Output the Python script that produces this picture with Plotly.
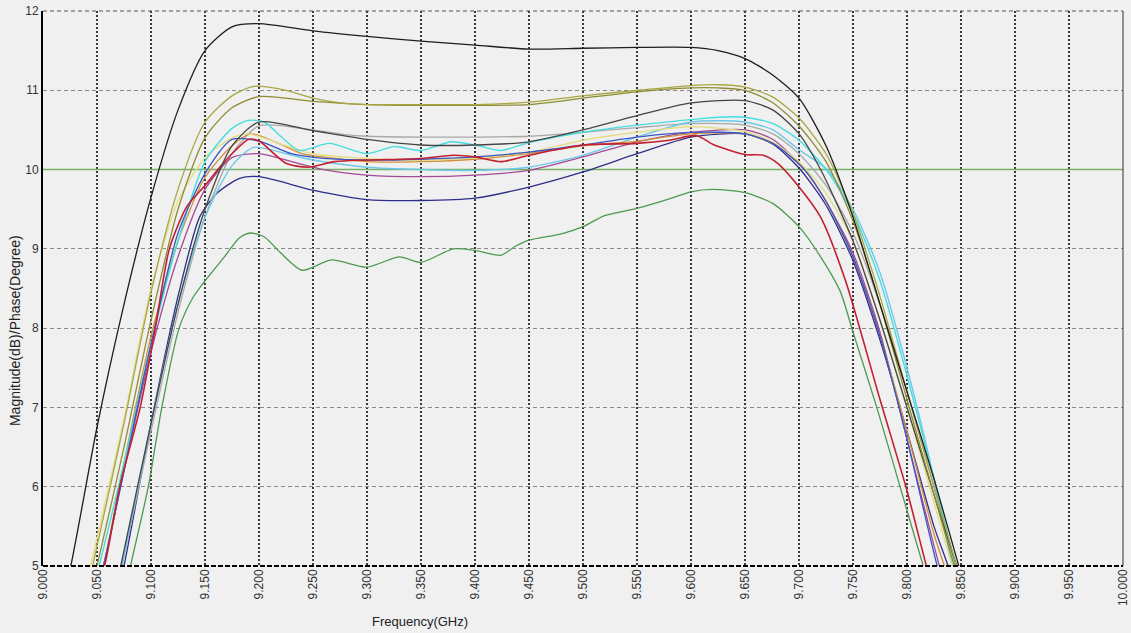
import plotly.graph_objects as go

# ---------------- data ----------------
x_tick_vals = [9.0 + 0.05 * i for i in range(21)]
x_tick_text = ["9.000", "9.050", "9.100", "9.150", "9.200", "9.250", "9.300", "9.350", "9.400",
               "9.450", "9.500", "9.550", "9.600", "9.650", "9.700", "9.750", "9.800", "9.850",
               "9.900", "9.950", "10.000"]
y_tick_vals = [5, 6, 7, 8, 9, 10, 11, 12]
limit_db = 10

black_f = [9.000, 9.025, 9.050, 9.075, 9.100, 9.125, 9.150, 9.175, 9.200, 9.250, 9.300, 9.350, 9.400,
           9.450, 9.500, 9.550, 9.600, 9.625, 9.650, 9.675, 9.700, 9.725, 9.750, 9.775, 9.800, 9.825,
           9.850, 9.875]
black_v = [3.5, 4.95, 6.75, 8.3, 9.65, 10.75, 11.5, 11.8, 11.84, 11.75, 11.68, 11.62, 11.57,
           11.52, 11.53, 11.54, 11.54, 11.5, 11.4, 11.2, 10.9, 10.3, 9.4, 8.3, 7.2, 6.1,
           4.9, 3.7]

olive1_f = [9.025, 9.050, 9.075, 9.100, 9.125, 9.150, 9.175, 9.195, 9.225, 9.250, 9.275, 9.300, 9.350,
            9.400, 9.450, 9.500, 9.550, 9.600, 9.625, 9.650, 9.675, 9.700, 9.725, 9.750, 9.775, 9.800,
            9.825, 9.850]
olive1_v = [3.7, 5.25, 6.8, 8.45, 9.75, 10.6, 10.93, 11.05, 11.0, 10.9, 10.84, 10.82, 10.82,
            10.82, 10.85, 10.93, 11.0, 11.06, 11.07, 11.04, 10.92, 10.65, 10.2, 9.45, 8.4, 7.2,
            6.0, 4.8]

olive2_f = [9.025, 9.050, 9.075, 9.100, 9.125, 9.150, 9.175, 9.200, 9.250, 9.300, 9.350, 9.400, 9.450,
            9.500, 9.550, 9.600, 9.625, 9.650, 9.675, 9.700, 9.725, 9.750, 9.775, 9.800, 9.825, 9.850]
olive2_v = [3.6, 5.0, 6.5, 8.1, 9.5, 10.4, 10.78, 10.92, 10.86, 10.82, 10.81, 10.81, 10.82,
            10.9, 10.98, 11.03, 11.03, 11.0, 10.85, 10.55, 10.1, 9.35, 8.3, 7.1, 5.9, 4.7]

yellow_f = [9.025, 9.044, 9.075, 9.100, 9.125, 9.150, 9.175, 9.190, 9.225, 9.250, 9.300, 9.350, 9.400,
            9.450, 9.500, 9.550, 9.600, 9.650, 9.675, 9.700, 9.725, 9.750, 9.775, 9.800, 9.825, 9.850]
yellow_v = [3.8, 5.0, 6.85, 8.5, 9.6, 10.15, 10.4, 10.45, 10.3, 10.2, 10.14, 10.12, 10.15,
            10.22, 10.37, 10.47, 10.54, 10.48, 10.35, 10.1, 9.7, 9.1, 8.1, 7.0, 5.8, 4.6]

cyan_f = [9.025, 9.052, 9.075, 9.100, 9.125, 9.150, 9.175, 9.190, 9.205, 9.220, 9.237, 9.265, 9.300,
          9.325, 9.350, 9.378, 9.400, 9.424, 9.450, 9.500, 9.550, 9.600, 9.625, 9.650, 9.676, 9.700,
          9.725, 9.750, 9.775, 9.800, 9.825, 9.845, 9.860]
cyan_v = [3.6, 5.0, 6.3, 7.8, 9.1, 10.1, 10.52, 10.62, 10.6, 10.42, 10.24, 10.33, 10.2,
          10.29, 10.24, 10.35, 10.31, 10.24, 10.34, 10.47, 10.56, 10.63, 10.66, 10.66, 10.58, 10.37,
          10.0, 9.45, 8.6, 7.4, 6.1, 5.0, 4.2]

lightcyan_f = [9.050, 9.073, 9.100, 9.125, 9.150, 9.175, 9.195, 9.225, 9.250, 9.300, 9.350, 9.400,
               9.450, 9.500, 9.550, 9.600, 9.650, 9.676, 9.700, 9.726, 9.750, 9.775, 9.800, 9.825,
               9.842, 9.860]
lightcyan_v = [3.5, 5.0, 6.8, 8.3, 9.4, 10.05, 10.28, 10.2, 10.12, 10.03, 10.0, 9.99,
               10.03, 10.18, 10.41, 10.6, 10.6, 10.5, 10.25, 10.0, 9.5, 8.7, 7.5, 6.1,
               5.0, 4.0]

blue_f = [9.030, 9.056, 9.075, 9.100, 9.125, 9.150, 9.175, 9.200, 9.230, 9.260, 9.300, 9.350, 9.400,
          9.450, 9.500, 9.550, 9.600, 9.650, 9.676, 9.705, 9.725, 9.750, 9.775, 9.800, 9.828, 9.850]
blue_v = [3.6, 5.0, 6.2, 7.8, 9.2, 9.95, 10.38, 10.36, 10.2, 10.14, 10.12, 10.13, 10.16,
          10.22, 10.31, 10.41, 10.47, 10.45, 10.33, 10.0, 9.6, 8.9, 7.9, 6.6, 5.0, 4.0]

red_f = [9.030, 9.057, 9.071, 9.090, 9.104, 9.117, 9.133, 9.150, 9.165, 9.178, 9.190, 9.200, 9.225,
         9.245, 9.270, 9.300, 9.350, 9.380, 9.400, 9.424, 9.450, 9.500, 9.550, 9.580, 9.605, 9.620,
         9.650, 9.667, 9.680, 9.700, 9.720, 9.743, 9.775, 9.800, 9.818, 9.835]
red_v = [3.7, 5.0, 6.0, 7.0, 8.0, 9.0, 9.53, 9.8, 10.05, 10.24, 10.38, 10.36, 10.08,
         10.03, 10.1, 10.12, 10.14, 10.18, 10.16, 10.1, 10.18, 10.31, 10.33, 10.37, 10.43, 10.32,
         10.19, 10.18, 10.08, 9.78, 9.4, 8.6, 7.1, 5.95, 5.0, 4.2]

orange_f = [9.030, 9.056, 9.075, 9.100, 9.125, 9.150, 9.175, 9.192, 9.215, 9.240, 9.270, 9.300, 9.350,
            9.400, 9.450, 9.500, 9.550, 9.600, 9.650, 9.680, 9.705, 9.725, 9.750, 9.775, 9.800, 9.825,
            9.845]
orange_v = [3.7, 5.0, 6.3, 7.9, 9.1, 9.9, 10.3, 10.45, 10.35, 10.2, 10.14, 10.1, 10.1,
            10.13, 10.2, 10.3, 10.36, 10.45, 10.45, 10.3, 10.0, 9.6, 8.9, 7.9, 6.7, 5.4,
            4.6]

purple_f = [9.030, 9.056, 9.075, 9.100, 9.125, 9.150, 9.175, 9.200, 9.230, 9.260, 9.300, 9.350, 9.400,
            9.450, 9.500, 9.550, 9.600, 9.650, 9.676, 9.705, 9.725, 9.750, 9.775, 9.800, 9.830, 9.850]
purple_v = [3.6, 5.0, 6.2, 7.7, 8.9, 9.75, 10.15, 10.2, 10.1, 10.0, 9.93, 9.91, 9.93,
            9.99, 10.16, 10.35, 10.47, 10.5, 10.38, 10.0, 9.6, 8.95, 7.95, 6.6, 5.0, 4.1]

navy_f = [9.050, 9.075, 9.100, 9.125, 9.145, 9.161, 9.182, 9.200, 9.250, 9.300, 9.350, 9.400, 9.450,
          9.500, 9.550, 9.600, 9.650, 9.676, 9.700, 9.725, 9.750, 9.775, 9.800, 9.825, 9.838, 9.860]
navy_v = [3.5, 5.0, 6.8, 8.4, 9.4, 9.7, 9.89, 9.91, 9.74, 9.62, 9.61, 9.64, 9.78,
          9.97, 10.2, 10.41, 10.45, 10.32, 10.02, 9.55, 8.85, 7.85, 6.7, 5.5, 5.0, 4.0]

green_f = [9.060, 9.081, 9.0975, 9.110, 9.126, 9.139, 9.152, 9.168, 9.182, 9.192, 9.205, 9.220, 9.240,
           9.267, 9.300, 9.330, 9.350, 9.380, 9.400, 9.424, 9.437, 9.450, 9.480, 9.500, 9.520, 9.550,
           9.580, 9.600, 9.620, 9.650, 9.676, 9.700, 9.720, 9.738, 9.750, 9.772, 9.800, 9.815, 9.830]
green_v = [3.7, 5.0, 6.0, 7.0, 8.0, 8.39, 8.63, 8.9, 9.14, 9.2, 9.15, 8.95, 8.73,
           8.86, 8.77, 8.9, 8.83, 9.0, 8.98, 8.92, 9.03, 9.11, 9.19, 9.28, 9.42, 9.51,
           9.63, 9.72, 9.75, 9.71, 9.57, 9.28, 8.9, 8.47, 7.95, 7.0, 5.7, 5.0, 4.3]

darkgray_f = [9.050, 9.072, 9.100, 9.125, 9.150, 9.175, 9.200, 9.250, 9.300, 9.350, 9.400, 9.450,
              9.500, 9.550, 9.600, 9.650, 9.676, 9.700, 9.720, 9.750, 9.775, 9.800, 9.825, 9.846, 9.860]
darkgray_v = [3.6, 5.0, 6.8, 8.3, 9.5, 10.3, 10.6, 10.49, 10.38, 10.31, 10.31, 10.35,
              10.5, 10.68, 10.84, 10.87, 10.75, 10.45, 10.0, 9.1, 8.1, 7.0, 5.9, 5.0, 4.4]

lightgray_f = [9.050, 9.073, 9.100, 9.125, 9.150, 9.175, 9.200, 9.240, 9.280, 9.300, 9.350, 9.400,
               9.450, 9.500, 9.550, 9.600, 9.650, 9.676, 9.700, 9.725, 9.750, 9.775, 9.800, 9.825,
               9.845, 9.860]
lightgray_v = [3.5, 5.0, 6.7, 8.2, 9.4, 10.2, 10.55, 10.52, 10.44, 10.42, 10.41, 10.41,
               10.42, 10.47, 10.53, 10.58, 10.56, 10.45, 10.2, 9.8, 9.2, 8.3, 7.2, 6.0,
               5.0, 4.3]

# ---------------- figure ----------------
FONT = "Liberation Sans, Arial, sans-serif"
fig = go.Figure()

# limit line (drawn first, under the curves)
fig.add_trace(go.Scatter(x=[x_tick_vals[0], x_tick_vals[-1]], y=[limit_db, limit_db], mode="lines",
                         line=dict(color="#74b266", width=1.6), hoverinfo="skip"))

series = [
    (green_f, green_v, "#4c9a50", 1.3),
    (navy_f, navy_v, "#2e2e8a", 1.3),
    (lightgray_f, lightgray_v, "#a8a8a8", 1.3),
    (purple_f, purple_v, "#a44a96", 1.3),
    (lightcyan_f, lightcyan_v, "#6cc8e8", 1.4),
    (orange_f, orange_v, "#d0903a", 1.3),
    (yellow_f, yellow_v, "#e4de88", 1.4),
    (cyan_f, cyan_v, "#45dde0", 1.4),
    (blue_f, blue_v, "#3a56c4", 1.3),
    (red_f, red_v, "#c22030", 1.6),
    (darkgray_f, darkgray_v, "#454545", 1.3),
    (olive2_f, olive2_v, "#8e8c34", 1.3),
    (olive1_f, olive1_v, "#a8a640", 1.3),
    (black_f, black_v, "#1e1e1e", 1.3),
]
for fx, fy, col, w in series:
    fig.add_trace(go.Scatter(x=fx, y=fy, mode="lines",
                             line=dict(color=col, width=w, shape="spline", smoothing=0.7)))

fig.update_layout(
    width=1131, height=633,
    margin=dict(l=43, r=8, t=11, b=67, autoexpand=False),
    paper_bgcolor="#f0f0f0", plot_bgcolor="#f0f0f0",
    showlegend=False,
    font=dict(family=FONT, size=12, color="#222222"),
    xaxis=dict(range=[9.0, 10.0], tickvals=x_tick_vals, ticktext=x_tick_text, tickangle=-90,
               showgrid=True, gridcolor="#3a3a3a", gridwidth=1.5, griddash="2px,2px",
               zeroline=False, showline=False, ticks="", automargin=False,
               tickfont=dict(size=12, color="#333333")),
    yaxis=dict(range=[5, 12], tickvals=y_tick_vals, showgrid=True, gridcolor="#8a8a8a",
               gridwidth=1, griddash="4px,3px", zeroline=False, showline=True, automargin=False,
               linecolor="#000000", linewidth=2, ticks="", tickfont=dict(size=12, color="#333333")),
    shapes=[
        dict(type="line", xref="paper", yref="paper", x0=0, x1=1, y0=0, y1=0,
             line=dict(color="#000000", width=2, dash="5px,2px")),
        dict(type="line", xref="paper", yref="paper", x0=1, x1=1, y0=0, y1=1,
             line=dict(color="#333333", width=1)),
        dict(type="line", xref="paper", yref="paper", x0=0, x1=1, y0=1, y1=1,
             line=dict(color="#555555", width=1, dash="4px,3px")),
    ],
    annotations=[
        dict(text="Frequency(GHz)", xref="paper", yref="paper", x=0.349, y=-0.1,
             yanchor="middle", xanchor="center", showarrow=False,
             font=dict(size=13, color="#222222", family=FONT)),
        dict(text="Magnitude(dB)/Phase(Degree)", xref="paper", yref="paper", x=-0.026, y=0.425,
             xanchor="center", yanchor="middle", textangle=-90, showarrow=False,
             font=dict(size=14, color="#222222", family=FONT)),
    ],
)

fig.write_html("out.html")
